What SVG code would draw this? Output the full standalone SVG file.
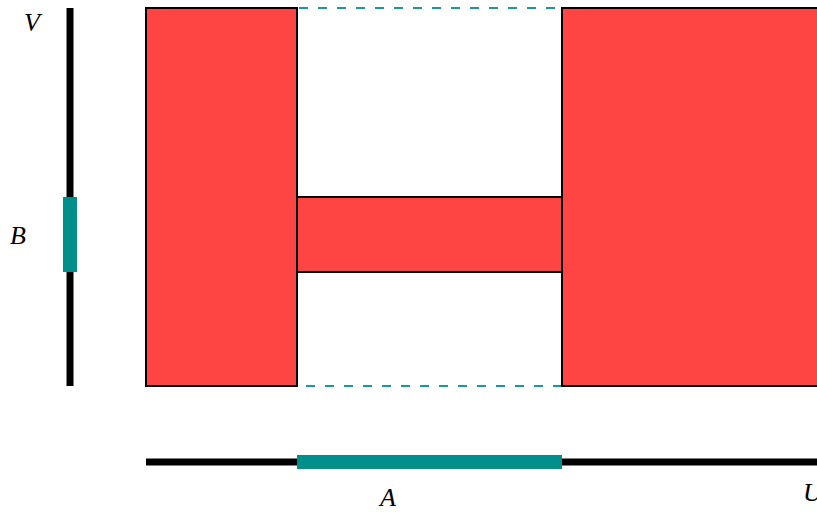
<svg xmlns="http://www.w3.org/2000/svg" width="817" height="512" viewBox="0 0 817 512">
<style>
.blk{fill:#ff4444;stroke:#000;stroke-width:2}
.axis{stroke:#000;stroke-width:7;fill:none}
.hl{fill:#008e8a}
.dash{stroke:#1a9a94;stroke-width:2.2;stroke-dasharray:9 10;fill:none}
.lbl{font-family:"Liberation Serif",serif;font-style:italic;font-size:26px;fill:#000}
</style>
<rect width="817" height="512" fill="#fff"/>
<g id="axes">
<line class="axis" x1="70" y1="8" x2="70" y2="386"/>
<rect class="hl" x="63" y="197" width="14" height="75"/>
<line class="axis" x1="146" y1="462" x2="817" y2="462"/>
<rect class="hl" x="297" y="455" width="265" height="14"/>
</g>
<g id="connectors">
<line class="dash" x1="299" y1="8" x2="562" y2="8"/>
<line class="dash" x1="306" y1="386" x2="562" y2="386"/>
</g>
<g id="left-block"><rect class="blk" x="146" y="8" width="151" height="378"/></g>
<g id="right-block"><rect class="blk" x="562" y="8" width="260" height="378"/></g>
<g id="middle-block"><rect class="blk" x="297" y="197" width="265" height="75"/></g>
<g id="labels">
<text class="lbl" x="24" y="31">V</text>
<text class="lbl" x="10" y="244">B</text>
<text class="lbl" x="380" y="506">A</text>
<text class="lbl" x="803" y="501">U</text>
</g>
</svg>
